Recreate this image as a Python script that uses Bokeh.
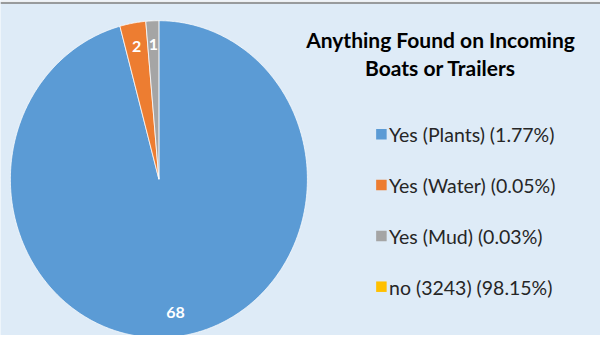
import numpy as np
from bokeh.plotting import figure
from bokeh.models import Range1d
from bokeh.core.properties import value
from bokeh.embed import file_html
from bokeh.resources import INLINE

# ---- data ----
categories = ["Yes (Plants)", "Yes (Water)", "Yes (Mud)", "no"]
counts = [68, 2, 1, 0]
legend_labels = ["Yes (Plants) (1.77%)", "Yes (Water) (0.05%)",
                 "Yes (Mud) (0.03%)", "no (3243) (98.15%)"]
colors = ["#5B9BD5", "#ED7D31", "#A5A5A5", "#FFC000"]
title_lines = ["Anything Found on Incoming", "Boats or Trailers"]

# ---- layout constants (pixels) ----
W, H = 600, 335
cx, cy, rx, ry = 158.4, 156.3, 148.5, 158.5
BG = "#DEEBF7"
FONT = "Lato"

p = figure(width=W, height=H, output_backend="svg", toolbar_location=None,
           x_range=Range1d(0, W), y_range=Range1d(0, H), min_border=0,
           x_axis_location=None, y_axis_location=None)
p.grid.visible = False
p.outline_line_color = None
p.background_fill_color = BG
p.border_fill_color = BG

total = float(sum(counts))
fracs = np.array(counts) / total
ends = np.cumsum(fracs)
starts = ends - fracs

xs, ys, fills, lx, ly, lt = [], [], [], [], [], []
for s, e, c, n in zip(starts, ends, colors, counts):
    if n <= 0:
        continue
    th = np.linspace(s, e, max(3, int((e - s) * 720))) * 2 * np.pi
    xs.append(np.concatenate([[cx], cx + rx * np.sin(th)]).tolist())
    ys.append(np.concatenate([[cy], cy + ry * np.cos(th)]).tolist())
    fills.append(c)
    m = (s + e) / 2 * 2 * np.pi
    lx.append(cx + 0.85 * rx * np.sin(m))
    ly.append(cy + 0.85 * ry * np.cos(m))
    lt.append(str(n))

p.patches(xs=xs, ys=ys, fill_color=fills, line_color="white", line_width=0.75)
p.text(x=lx, y=ly, text=lt, text_color="white", text_font=value(FONT),
       text_font_style="bold", text_font_size="16px",
       text_align="center", text_baseline="middle")

# top frame line
p.quad(left=0, right=W, bottom=H - 2, top=H, fill_color="#EEF0F2", line_color=None)
p.segment(x0=0, x1=W, y0=H - 2.5, y1=H - 2.5, line_color="#7F7F7F", line_width=1.5)

# title
p.text(x=[440, 440], y=[296.4, 267.7], text=title_lines, text_color="black",
       text_font=value(FONT), text_font_style="bold", text_font_size="21px",
       text_align="center", text_baseline="alphabetic")

# legend
base0, step = 200.6, 50.8
base_y = [base0 - i * step for i in range(len(categories))]
mark_y = [b + 0.6 for b in base_y]
p.scatter(x=[380.9] * len(mark_y), y=mark_y, marker="square", size=10.5,
          fill_color=colors, line_color=None)
p.text(x=[388.5] * len(base_y), y=base_y, text=legend_labels, text_color="#262626",
       text_font=value(FONT), text_font_size="19.5px",
       text_align="left", text_baseline="alphabetic")

open("out.html", "w").write(file_html(p, INLINE))
